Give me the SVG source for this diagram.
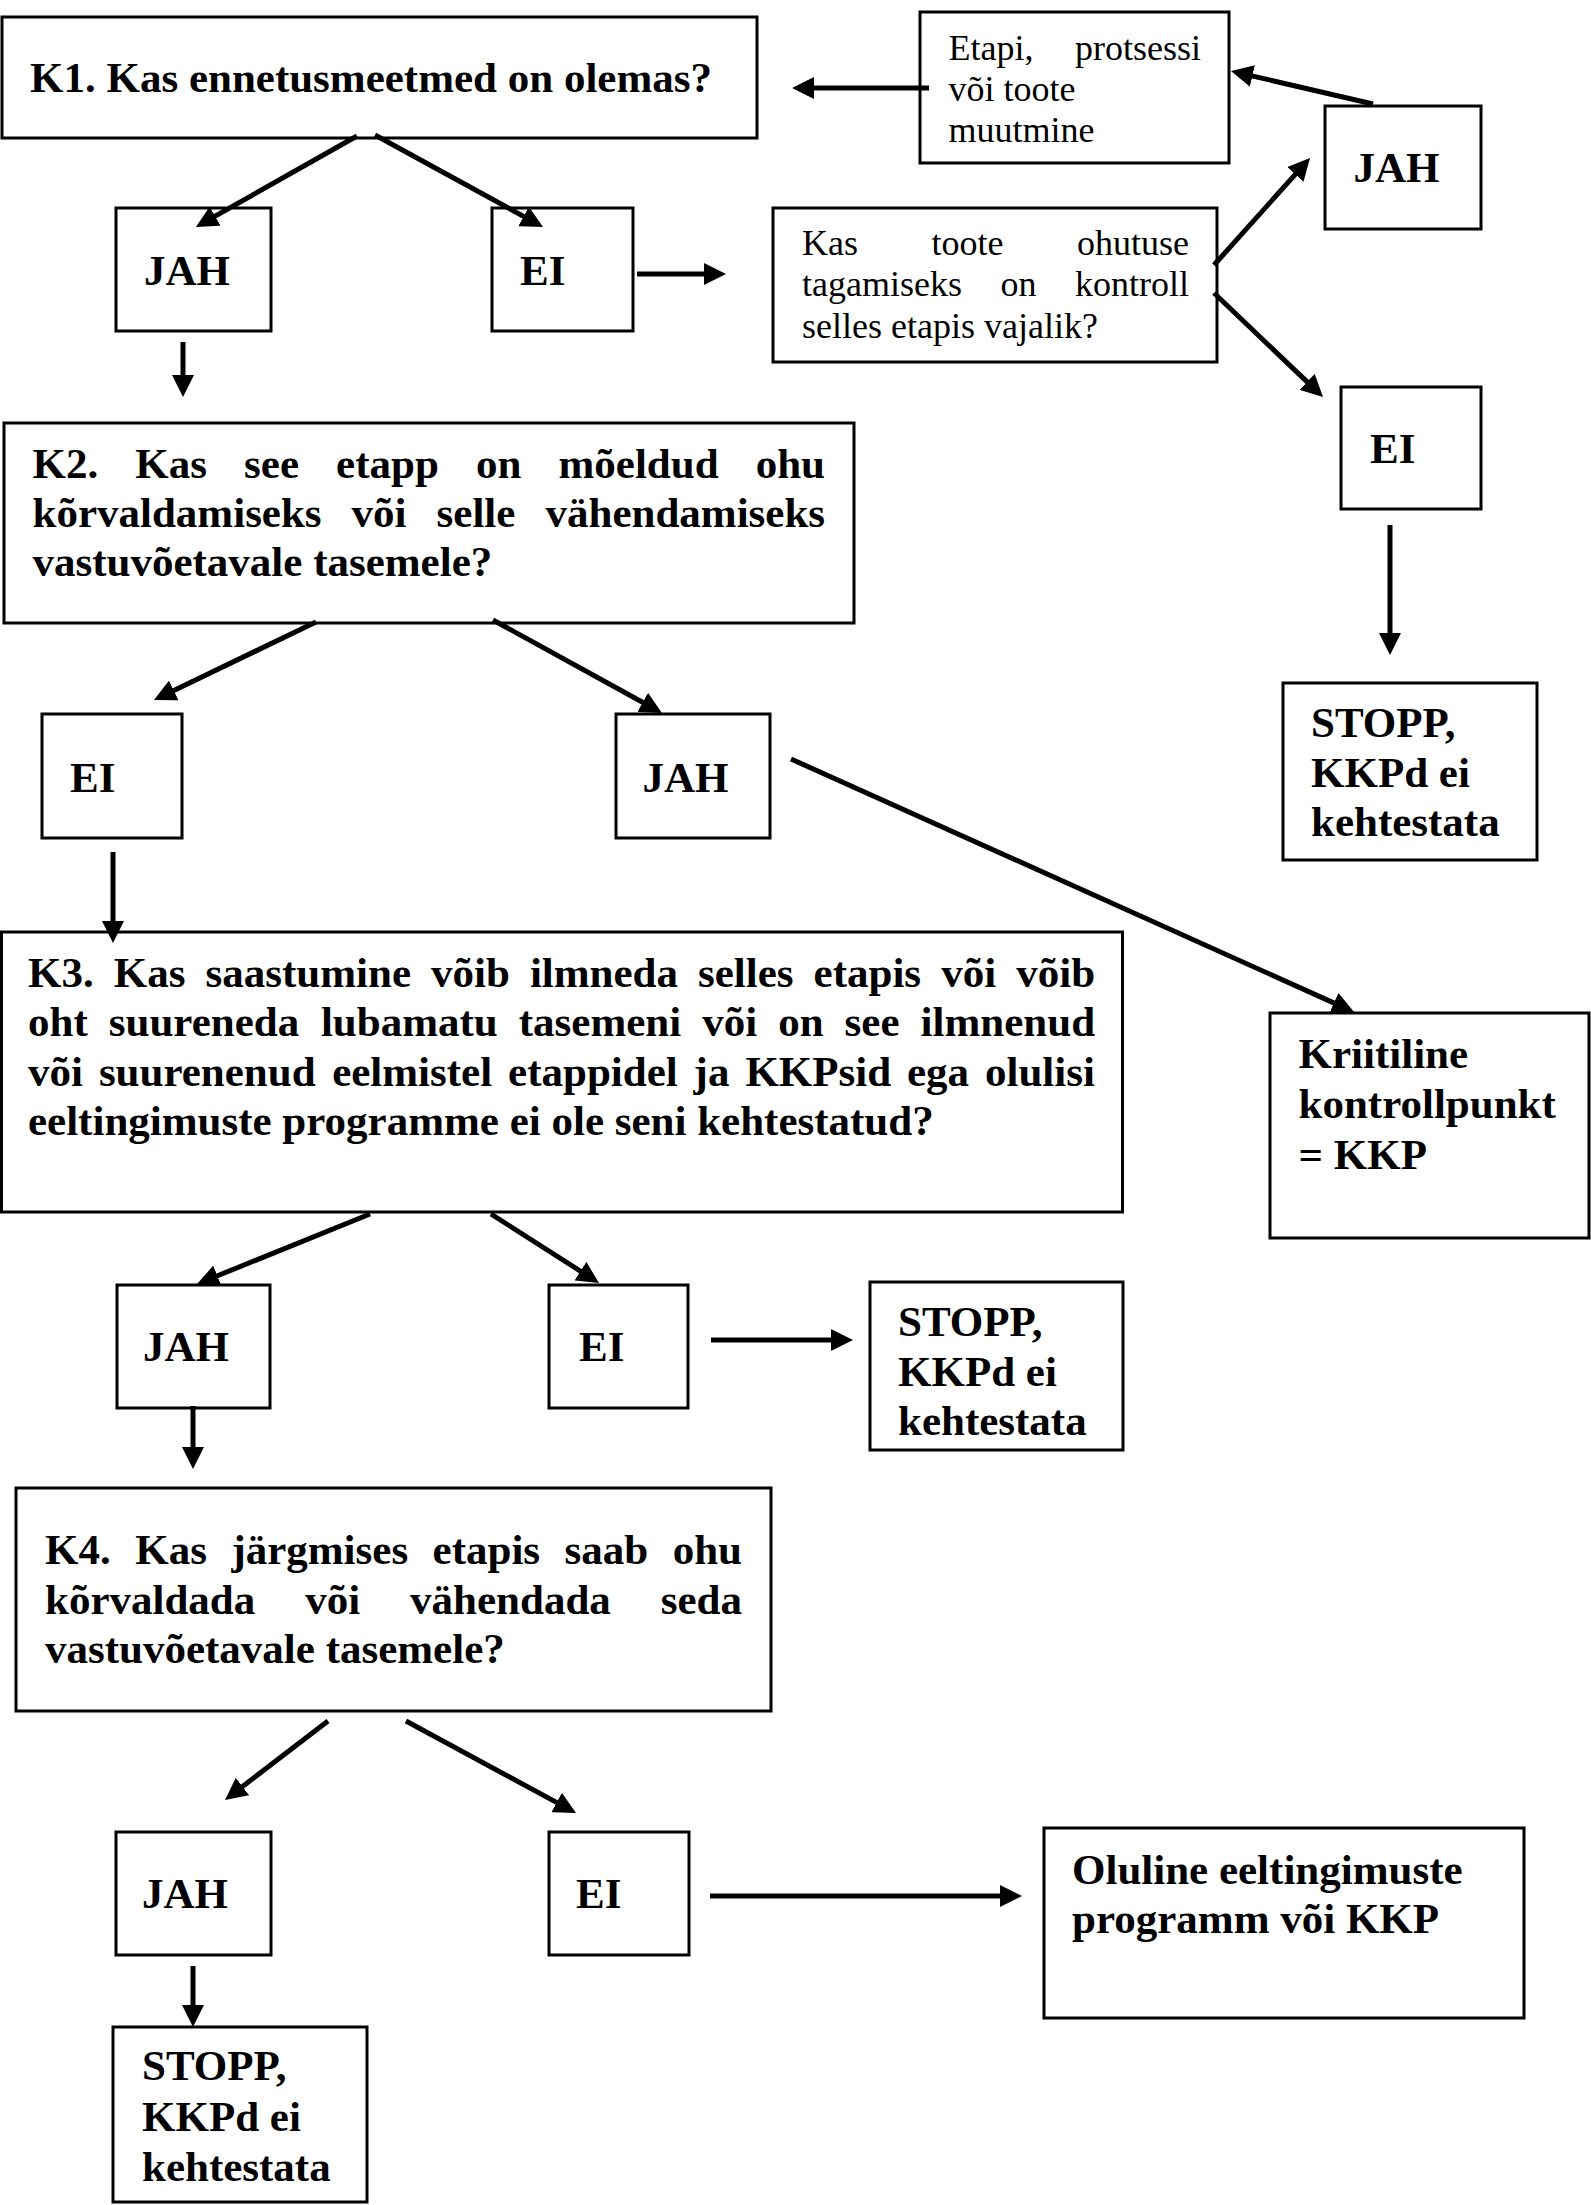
<svg xmlns="http://www.w3.org/2000/svg" width="1591" height="2205" viewBox="0 0 1591 2205">
<style>
.box{fill:#fff;stroke:#000;stroke-width:3}
.b{font-family:"Liberation Serif","Times New Roman",serif;font-weight:bold;font-size:43px;fill:#000}
.r{font-family:"Liberation Serif","Times New Roman",serif;font-size:36px;fill:#000}
.c{stroke:#000;stroke-width:5;fill:none;marker-end:url(#ah)}
</style>
<defs>
<marker id="ah" markerUnits="userSpaceOnUse" viewBox="0 0 22 22" markerWidth="22" markerHeight="22" refX="4" refY="11" orient="auto">
<path d="M0,0 L22,11 L0,22 z" fill="#000"/>
</marker>
</defs>
<rect width="1591" height="2205" fill="#fff"/>

<g id="k1"><rect class="box" x="2" y="17" width="755" height="121"/>
<text class="b" x="30" y="92">K1. Kas ennetusmeetmed on olemas?</text></g>

<g id="muutmine"><rect class="box" x="920" y="12" width="309" height="151"/>
<text class="r" y="60"><tspan x="948.5">Etapi,</tspan><tspan x="1075">protsessi</tspan></text>
<text class="r" x="948.5" y="101">või toote</text>
<text class="r" x="948.5" y="142">muutmine</text></g>

<g id="jah-r"><rect class="box" x="1325" y="106" width="156" height="123"/>
<text class="b" x="1353.5" y="182">JAH</text></g>

<g id="kontroll"><rect class="box" x="773" y="208" width="444" height="154"/>
<text class="r" y="255"><tspan x="802">Kas</tspan><tspan x="931.5">toote</tspan><tspan x="1077">ohutuse</tspan></text>
<text class="r" y="296"><tspan x="802">tagamiseks</tspan><tspan x="1000.5">on</tspan><tspan x="1075">kontroll</tspan></text>
<text class="r" x="802" y="338">selles etapis vajalik?</text></g>

<g id="ei-r"><rect class="box" x="1341" y="387" width="140" height="122"/>
<text class="b" x="1370" y="463">EI</text></g>

<g id="stopp-r"><rect class="box" x="1283" y="683" width="254" height="177"/>
<text class="b" x="1311" y="737">STOPP,</text>
<text class="b" x="1311" y="787">KKPd ei</text>
<text class="b" x="1311" y="836">kehtestata</text></g>

<g id="jah1"><rect class="box" x="116" y="208" width="155" height="123"/>
<text class="b" x="144" y="285">JAH</text></g>

<g id="ei1"><rect class="box" x="492" y="208" width="141" height="123"/>
<text class="b" x="520" y="285">EI</text></g>

<g id="k2"><rect class="box" x="4" y="423" width="850" height="200"/>
<text class="b" y="478"><tspan x="32.5">K2.</tspan><tspan x="135.3">Kas</tspan><tspan x="244.1">see</tspan><tspan x="336.1">etapp</tspan><tspan x="476">on</tspan><tspan x="558.5">mõeldud</tspan><tspan x="755.7">ohu</tspan></text>
<text class="b" y="527"><tspan x="32.5">kõrvaldamiseks</tspan><tspan x="351.6">või</tspan><tspan x="436.6">selle</tspan><tspan x="545.5">vähendamiseks</tspan></text>
<text class="b" x="32.5" y="576">vastuvõetavale tasemele?</text></g>

<g id="ei2"><rect class="box" x="42" y="714" width="140" height="124"/>
<text class="b" x="70" y="792">EI</text></g>

<g id="jah2"><rect class="box" x="616" y="714" width="154" height="124"/>
<text class="b" x="642.5" y="792">JAH</text></g>

<g id="kkp"><rect class="box" x="1270" y="1013" width="319" height="225"/>
<text class="b" x="1298.5" y="1068">Kriitiline</text>
<text class="b" x="1298.5" y="1118">kontrollpunkt</text>
<text class="b" x="1298.5" y="1169">= KKP</text></g>

<g id="k3"><rect class="box" x="1.5" y="932" width="1121" height="280"/>
<text class="b" y="987"><tspan x="28">K3.</tspan><tspan x="113.7">Kas</tspan><tspan x="205.5">saastumine</tspan><tspan x="431">võib</tspan><tspan x="529.9">ilmneda</tspan><tspan x="698">selles</tspan><tspan x="813.6">etapis</tspan><tspan x="941.2">või</tspan><tspan x="1016.2">võib</tspan></text>
<text class="b" y="1036"><tspan x="28">oht</tspan><tspan x="108.8">suureneda</tspan><tspan x="320.9">lubamatu</tspan><tspan x="518.8">tasemeni</tspan><tspan x="702.2">või</tspan><tspan x="778.2">on</tspan><tspan x="844.6">see</tspan><tspan x="920.6">ilmnenud</tspan></text>
<text class="b" y="1086"><tspan x="28">või</tspan><tspan x="98.9">suurenenud</tspan><tspan x="332.2">eelmistel</tspan><tspan x="508.1">etappidel</tspan><tspan x="693.6">ja</tspan><tspan x="745.4">KKPsid</tspan><tspan x="907">ega</tspan><tspan x="985">olulisi</tspan></text>
<text class="b" x="28" y="1135">eeltingimuste programme ei ole seni kehtestatud?</text></g>

<g id="jah3"><rect class="box" x="117" y="1285" width="153" height="123"/>
<text class="b" x="143" y="1361">JAH</text></g>

<g id="ei3"><rect class="box" x="549" y="1285" width="139" height="123"/>
<text class="b" x="579" y="1361">EI</text></g>

<g id="stopp3"><rect class="box" x="870" y="1282" width="253" height="168"/>
<text class="b" x="898" y="1336">STOPP,</text>
<text class="b" x="898" y="1386">KKPd ei</text>
<text class="b" x="898" y="1435">kehtestata</text></g>

<g id="k4"><rect class="box" x="16" y="1488" width="755" height="223"/>
<text class="b" y="1564"><tspan x="45">K4.</tspan><tspan x="135.2">Kas</tspan><tspan x="231.4">järgmises</tspan><tspan x="432.6">etapis</tspan><tspan x="564.6">saab</tspan><tspan x="672.7">ohu</tspan></text>
<text class="b" y="1614"><tspan x="45">kõrvaldada</tspan><tspan x="305.2">või</tspan><tspan x="410.1">vähendada</tspan><tspan x="660.8">seda</tspan></text>
<text class="b" x="45" y="1663">vastuvõetavale tasemele?</text></g>

<g id="jah4"><rect class="box" x="116" y="1832" width="155" height="123"/>
<text class="b" x="142" y="1908">JAH</text></g>

<g id="ei4"><rect class="box" x="549" y="1832" width="140" height="123"/>
<text class="b" x="576" y="1908">EI</text></g>

<g id="oluline"><rect class="box" x="1044" y="1828" width="480" height="190"/>
<text class="b" x="1072" y="1884">Oluline eeltingimuste</text>
<text class="b" x="1072" y="1933">programm või KKP</text></g>

<g id="stopp4"><rect class="box" x="113" y="2027" width="254" height="175"/>
<text class="b" x="142" y="2080">STOPP,</text>
<text class="b" x="142" y="2131">KKPd ei</text>
<text class="b" x="142" y="2181">kehtestata</text></g>

<g id="connectors">
<line class="c" x1="357" y1="136" x2="211.6" y2="218.1"/>
<line class="c" x1="375" y1="135" x2="527.2" y2="218.4"/>
<line class="c" x1="183" y1="342" x2="183" y2="379"/>
<line class="c" x1="637" y1="274" x2="708" y2="274"/>
<line class="c" x1="1214" y1="265" x2="1298" y2="171.4"/>
<line class="c" x1="1214" y1="293" x2="1310" y2="384.6"/>
<line class="c" x1="1373" y1="104" x2="1248.5" y2="75.1"/>
<line class="c" x1="929" y1="88" x2="810" y2="88"/>
<line class="c" x1="1390" y1="525" x2="1390" y2="637"/>
<line class="c" x1="316" y1="622" x2="170.2" y2="692.2"/>
<line class="c" x1="493" y1="620" x2="646.2" y2="704.3"/>
<line class="c" x1="113" y1="852" x2="113" y2="925"/>
<line class="c" x1="791" y1="759" x2="1337.6" y2="1004.6"/>
<line class="c" x1="370" y1="1214" x2="213.7" y2="1277.3"/>
<line class="c" x1="491" y1="1214" x2="583.8" y2="1273.3"/>
<line class="c" x1="711" y1="1340" x2="835" y2="1340"/>
<line class="c" x1="193" y1="1406" x2="193" y2="1451"/>
<line class="c" x1="328" y1="1721" x2="239.3" y2="1789"/>
<line class="c" x1="406" y1="1721" x2="560.2" y2="1804.4"/>
<line class="c" x1="710" y1="1896" x2="1004" y2="1896"/>
<line class="c" x1="193" y1="1966" x2="193" y2="2009"/>
</g>
</svg>
